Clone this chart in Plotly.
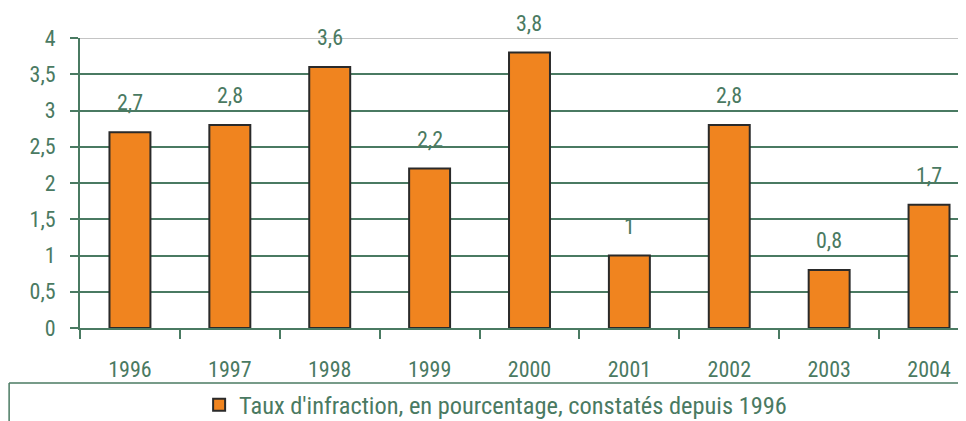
import plotly.graph_objects as go

years = ["1996", "1997", "1998", "1999", "2000", "2001", "2002", "2003", "2004"]
values = [2.7, 2.8, 3.6, 2.2, 3.8, 1.0, 2.8, 0.8, 1.7]
labels = ["2,7", "2,8", "3,6", "2,2", "3,8", "1", "2,8", "0,8", "1,7"]
yticks = [0, 0.5, 1, 1.5, 2, 2.5, 3, 3.5, 4]
ytick_text = ["0", "0,5", "1", "1,5", "2", "2,5", "3", "3,5", "4"]
series_name = "Taux d'infraction, en pourcentage, constatés depuis 1996"

GREEN = "#4a7a62"
ORANGE = "#f0841f"
FONT = "Liberation Sans Narrow, Arial Narrow, Roboto Condensed, sans-serif"

fig = go.Figure()
fig.add_trace(go.Bar(
    x=years, y=values, name=series_name,
    width=0.41,
    marker=dict(color=ORANGE, line=dict(color="#2a2a2a", width=2)),
    showlegend=True,
))

for i, (v, t) in enumerate(zip(values, labels)):
    fig.add_annotation(x=i, y=v, text=t, showarrow=False, yanchor="bottom",
                       yshift=15, font=dict(size=22, color=GREEN, family=FONT))

# top grid line (grey)
fig.add_shape(type="line", xref="paper", yref="y", x0=0, x1=1, y0=4, y1=4,
              line=dict(color="#c4c4c4", width=2), layer="above")
# legend frame lines
fig.add_shape(type="line", xref="paper", yref="paper", x0=-0.08, x1=1.01,
              y0=-0.19, y1=-0.19, line=dict(color=GREEN, width=1.5))
fig.add_shape(type="line", xref="paper", yref="paper", x0=-0.08, x1=-0.08,
              y0=-0.19, y1=-0.35, line=dict(color=GREEN, width=1.5))

fig.update_layout(
    width=958, height=413,
    margin=dict(l=72, r=0, t=30, b=93, autoexpand=False),
    paper_bgcolor="white", plot_bgcolor="white",
    font=dict(family=FONT, size=22, color=GREEN),
    bargap=0.59,
    legend=dict(orientation="h", xref="container", yref="container",
                x=0.509, xanchor="center", y=0.039, yanchor="middle",
                bgcolor="rgba(0,0,0,0)",
                font=dict(size=24.4, color=GREEN, family=FONT),
                itemsizing="constant"),
    xaxis=dict(type="category", range=[-0.5, 8.37], tickson="boundaries",
               ticks="outside", ticklen=9, tickwidth=2, tickcolor=GREEN,
               showline=True, linecolor=GREEN, linewidth=2,
               showgrid=False, ticklabelstandoff=21,
               tickfont=dict(size=22, color=GREEN, family=FONT)),
    yaxis=dict(range=[0, 4], tickvals=yticks, ticktext=ytick_text,
               ticks="outside", ticklen=8, tickwidth=2, tickcolor=GREEN,
               showline=True, linecolor=GREEN, linewidth=2,
               showgrid=True, gridcolor=GREEN, gridwidth=2,
               zeroline=False, ticklabelstandoff=10,
               tickfont=dict(size=22, color=GREEN, family=FONT)),
)

fig.write_html("out.html")
